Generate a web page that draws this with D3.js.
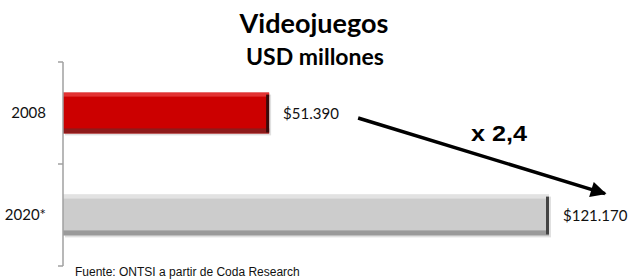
<!DOCTYPE html>
<html>
<head>
<meta charset="utf-8">
<script src="https://cdn.jsdelivr.net/npm/d3@7"></script>
<style>
  html, body { margin: 0; padding: 0; background: #fff; }
  #viz { width: 628px; height: 280px; }
  svg { display: block; }
</style>
</head>
<body>
<div id="viz"></div>
<script>
// Data
const categories = ["2008", "2020*"];
const values = [51390, 121170];
const valueLabels = ["$51.390", "$121.170"];
const barColors = ["#cc0000", "#cccccc"];
const barLight = ["#e23232", "#e2e2e2"];
const barDark = ["#8e1a1a", "#9a9a9a"];
const barEdge = ["#3a0a0a", "#444444"];

const width = 628;
const height = 280;

const svg = d3
  .select("#viz")
  .append("svg")
  .attr("width", width)
  .attr("height", height);

const x = d3.scaleLinear().domain([0, 121170]).range([63, 549]);
const y = d3
  .scaleBand()
  .domain(categories)
  .range([62, 266])
  .paddingInner(0.6)
  .paddingOuter(0.3);

// Arrow head
svg
  .append("defs")
  .append("marker")
  .attr("id", "head")
  .attr("viewBox", "0 0 10 10")
  .attr("refX", 9)
  .attr("refY", 5)
  .attr("markerWidth", 5)
  .attr("markerHeight", 4.5)
  .attr("markerUnits", "strokeWidth")
  .attr("orient", "auto")
  .append("path")
  .attr("d", "M0,0 L10,5 L0,10 Z")
  .attr("fill", "#000");

// Titles
svg
  .append("text")
  .attr("x", 314)
  .attr("y", 33)
  .attr("text-anchor", "middle")
  .style("font-family", "Lato, 'Open Sans', sans-serif")
  .style("font-weight", "bold")
  .style("font-size", "27px")
  .text("Videojuegos");

svg
  .append("text")
  .attr("x", 315)
  .attr("y", 65)
  .attr("text-anchor", "middle")
  .style("font-family", "Lato, 'Open Sans', sans-serif")
  .style("font-weight", "bold")
  .style("font-size", "23px")
  .text("USD millones");

// Bars
const bars = svg
  .selectAll("g.bar")
  .data(values)
  .join("g")
  .attr("class", "bar");

// soft shadow
bars
  .append("rect")
  .attr("x", x(0) + 2)
  .attr("y", (d, i) => y(categories[i]) + 2)
  .attr("width", (d) => x(d) - x(0))
  .attr("height", y.bandwidth())
  .attr("fill", "#000")
  .attr("opacity", 0.12);

bars
  .append("rect")
  .attr("x", x(0))
  .attr("y", (d, i) => y(categories[i]))
  .attr("width", (d) => x(d) - x(0))
  .attr("height", y.bandwidth())
  .attr("fill", (d, i) => barColors[i]);

// bevel: top highlight
bars
  .append("rect")
  .attr("x", x(0))
  .attr("y", (d, i) => y(categories[i]))
  .attr("width", (d) => x(d) - x(0))
  .attr("height", 4)
  .attr("fill", (d, i) => barLight[i]);

// bevel: bottom shade
bars
  .append("rect")
  .attr("x", x(0))
  .attr("y", (d, i) => y(categories[i]) + y.bandwidth() - 5)
  .attr("width", (d) => x(d) - x(0))
  .attr("height", 5)
  .attr("fill", (d, i) => barDark[i]);

// bevel: right edge
bars
  .append("rect")
  .attr("x", (d) => x(d) - 3)
  .attr("y", (d, i) => y(categories[i]) + 2)
  .attr("width", 3)
  .attr("height", y.bandwidth() - 3)
  .attr("fill", (d, i) => barEdge[i]);

// Value labels
bars
  .append("text")
  .attr("x", (d) => x(d) + 14)
  .attr("y", (d, i) => y(categories[i]) + y.bandwidth() / 2)
  .attr("dy", "0.38em")
  .style("font-family", "Lato, 'Open Sans', sans-serif")
  .style("font-size", "15px")
  .attr("fill", "#111")
  .text((d, i) => valueLabels[i]);

// Axis (categories on the left)
const axis = d3
  .axisLeft(y)
  .tickSize(0)
  .tickPadding(17);

const axisG = svg
  .append("g")
  .attr("transform", `translate(${x(0)},0)`)
  .call(axis);

axisG.select(".domain").remove();
axisG
  .selectAll("text")
  .style("font-family", "Lato, 'Open Sans', sans-serif")
  .style("font-size", "15px")
  .attr("fill", "#111");

// boundary ticks between bands
const step = y.step();
const bounds = [y.range()[0], y.range()[0] + step, y.range()[1]];
axisG
  .append("line")
  .attr("x1", 0)
  .attr("x2", 0)
  .attr("y1", y.range()[0])
  .attr("y2", y.range()[1])
  .attr("stroke", "#a0a0a0")
  .attr("stroke-width", 1.5);
axisG
  .selectAll("line.tk")
  .data(bounds)
  .join("line")
  .attr("class", "tk")
  .attr("x1", -5)
  .attr("x2", 0)
  .attr("y1", (d) => d)
  .attr("y2", (d) => d)
  .attr("stroke", "#a0a0a0")
  .attr("stroke-width", 1.5);

// Growth arrow
const y0 = y(categories[0]) + y.bandwidth() / 2;
const y1 = y(categories[1]);
svg
  .append("line")
  .attr("x1", x(values[0]) + 89)
  .attr("y1", y0 + 5)
  .attr("x2", x(values[1]) + 56)
  .attr("y2", y1 - 1)
  .attr("stroke", "#000")
  .attr("stroke-width", 3.5)
  .attr("marker-end", "url(#head)");

const ratio = (values[1] / values[0]).toFixed(1).replace(".", ",");
svg
  .append("text")
  .attr("x", 499)
  .attr("y", 141)
  .attr("text-anchor", "middle")
  .style("font-family", "'Liberation Sans', Arial, sans-serif")
  .style("font-weight", "bold")
  .style("font-size", "22px")
  .attr("textLength", 56)
  .attr("lengthAdjust", "spacingAndGlyphs")
  .text("x " + ratio);

// Source
svg
  .append("text")
  .attr("x", 75)
  .attr("y", 276)
  .style("font-family", "'Liberation Sans', Arial, sans-serif")
  .style("font-size", "12px")
  .attr("fill", "#111")
  .text("Fuente: ONTSI a partir de Coda Research");
</script>
</body>
</html>
